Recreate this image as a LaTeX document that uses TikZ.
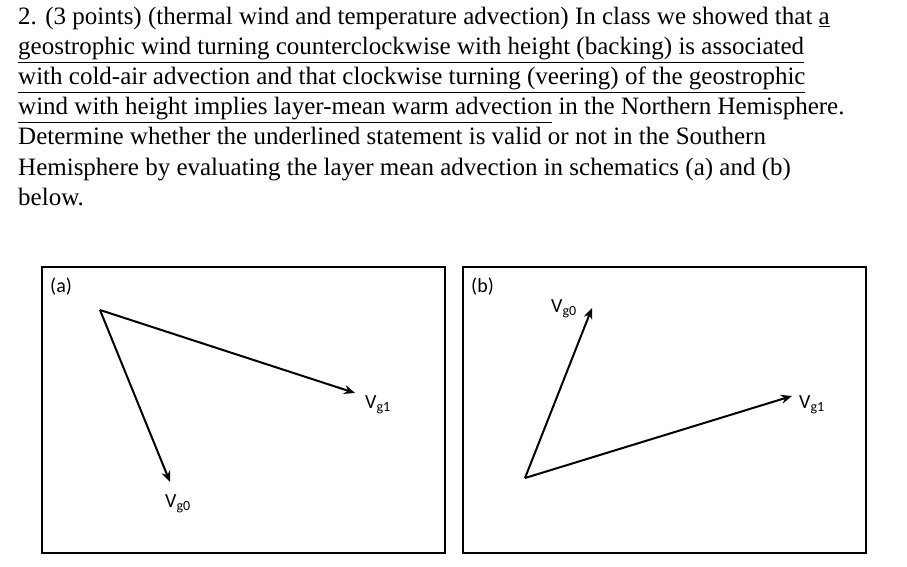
\documentclass[tikz,border=0pt]{standalone}
\usepackage{fontspec}
\setmainfont{Liberation Serif}
\newfontfamily\labelfont{Carlito}
\usetikzlibrary{arrows.meta}
\tikzset{
  txtline/.style={anchor=base west, inner sep=0pt, font=\fontsize{25}{30}\selectfont},
  panel/.style={draw, line width=1.5pt},
  wind/.style={-{Stealth[length=11pt,width=9pt]}, line width=2pt},
  vlabel/.style={font=\labelfont\fontsize{20}{24}\selectfont, inner sep=0pt},
  plabel/.style={font=\labelfont\fontsize{20}{24}\selectfont, anchor=north west, inner sep=0pt}
}
\newcommand{\Vg}[1]{V\textsubscript{g#1}}
\begin{document}
\begin{tikzpicture}[x=1pt,y=-1pt]
\useasboundingbox (0,0) rectangle (907,567);
% question text
\node[txtline] (l1) at (18,25) {2. (3 points) (thermal wind and temperature advection) In class we showed that \underline{a}};
\node[txtline] (l2) at (18,55) {\underline{geostrophic wind turning counterclockwise with height (backing) is associated}};
\node[txtline] (l3) at (18,85) {\underline{with cold-air advection and that clockwise turning (veering) of the geostrophic}};
\node[txtline] (l4) at (18,115) {\underline{wind with height implies layer-mean warm advection} in the Northern Hemisphere.};
\node[txtline] (l5) at (18,145) {Determine whether the underlined statement is valid or not in the Southern};
\node[txtline] (l6) at (18,175) {Hemisphere by evaluating the layer mean advection in schematics (a) and (b)};
\node[txtline] (l7) at (18,205) {below.};
% panel (a)
\draw[panel] (42,267) rectangle (445,553);
\node[plabel] (pa) at (50,278) {(a)};
\coordinate (oa) at (100,310);
\coordinate (a1) at (355,393);
\coordinate (a0) at (170,482);
\draw[wind] (oa) -- (a1);
\draw[wind] (oa) -- (a0);
\node[vlabel] (va1) at (378,405) {\Vg{1}};
\node[vlabel] (va0) at (178,504) {\Vg{0}};
% panel (b)
\draw[panel] (463,267) rectangle (866,553);
\node[plabel] (pb) at (471,278) {(b)};
\coordinate (ob) at (525,478);
\coordinate (b0) at (592,308);
\coordinate (b1) at (792,396);
\draw[wind] (ob) -- (b0);
\draw[wind] (ob) -- (b1);
\node[vlabel] (vb0) at (564,309) {\Vg{0}};
\node[vlabel] (vb1) at (812,405) {\Vg{1}};
\end{tikzpicture}
\end{document}
